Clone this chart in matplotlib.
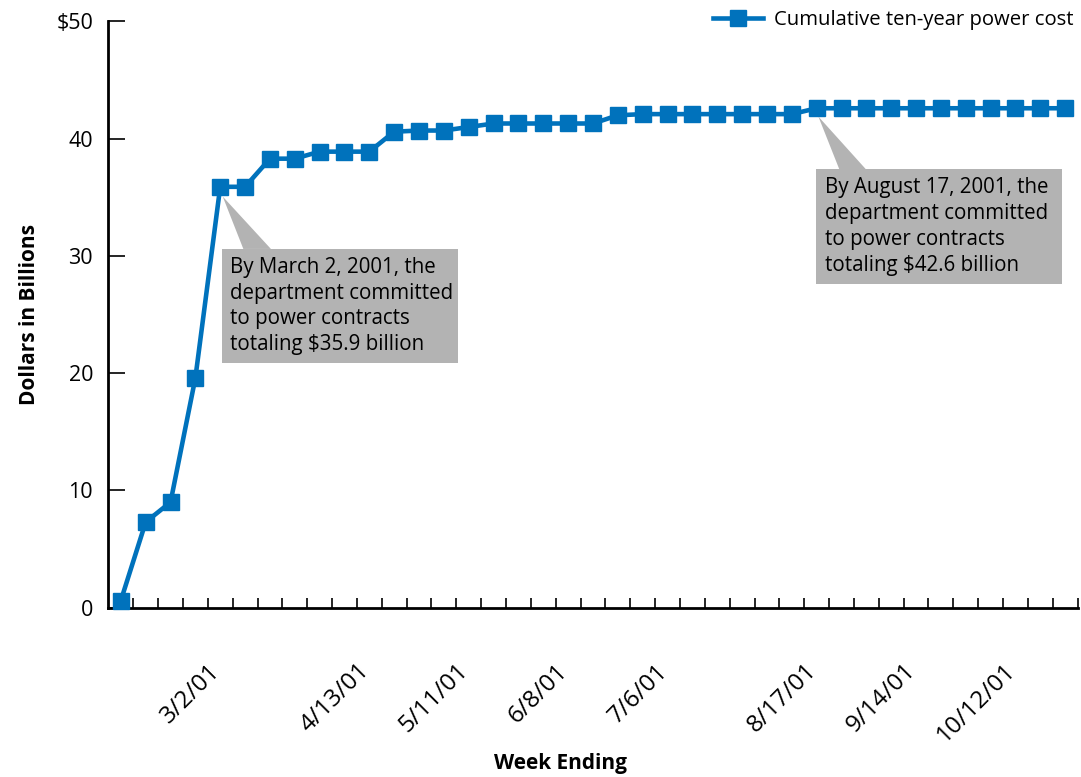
import matplotlib
matplotlib.use('Agg')
import matplotlib.pyplot as plt
from matplotlib.patches import Polygon, Rectangle
from matplotlib.transforms import ScaledTranslation

# weekly cumulative cost, week ending 2/2/01 through 10/26/01
weeks = ['2/2/01', '2/9/01', '2/16/01', '2/23/01', '3/2/01', '3/9/01', '3/16/01',
         '3/23/01', '3/30/01', '4/6/01', '4/13/01', '4/20/01', '4/27/01', '5/4/01',
         '5/11/01', '5/18/01', '5/25/01', '6/1/01', '6/8/01', '6/15/01', '6/22/01',
         '6/29/01', '7/6/01', '7/13/01', '7/20/01', '7/27/01', '8/3/01', '8/10/01',
         '8/17/01', '8/24/01', '8/31/01', '9/7/01', '9/14/01', '9/21/01', '9/28/01',
         '10/5/01', '10/12/01', '10/19/01', '10/26/01']
cost = [0.6, 7.3, 9.0, 19.6, 35.9, 35.9, 38.3, 38.3, 38.9, 38.9, 38.9, 40.6, 40.7,
        40.7, 41.0, 41.3, 41.3, 41.3, 41.3, 41.3, 42.0, 42.1, 42.1, 42.1, 42.1, 42.1,
        42.1, 42.1, 42.6, 42.6, 42.6, 42.6, 42.6, 42.6, 42.6, 42.6, 42.6, 42.6, 42.6]
shown_labels = ['3/2/01', '4/13/01', '5/11/01', '6/8/01', '7/6/01', '8/17/01',
                '9/14/01', '10/12/01']
y_ticks = [0, 10, 20, 30, 40, 50]
y_tick_labels = ['0', '10', '20', '30', '40', '$50']

note1 = 'By March 2, 2001, the\ndepartment committed\nto power contracts\ntotaling $35.9 billion'
note2 = 'By August 17, 2001, the\ndepartment committed\nto power contracts\ntotaling $42.6 billion'

plt.rcParams['font.family'] = ['Open Sans', 'DejaVu Sans']
blue = '#0072bc'
grey = '#b3b3b3'

fig = plt.figure(figsize=(10.81, 7.77), dpi=100)
ax = fig.add_axes([108.4 / 1081, 1 - 607.7 / 777, (1077.6 - 108.4) / 1081, (607.7 - 21.5) / 777])

x = list(range(len(weeks)))
ax.plot(x, cost, color=blue, lw=3.3, marker='s', ms=12, zorder=5, clip_on=False,
        label='Cumulative ten-year power cost')

ax.set_xlim(-0.5, len(weeks) - 0.5)
ax.set_ylim(0, 50)

# callouts
ax.add_patch(Rectangle((4.06, 20.88), 13.57 - 4.06, 30.6 - 20.88, fc=grey, ec='none', zorder=2))
ax.add_patch(Polygon([(4.10, 35.07), (4.93, 30.6), (6.04, 30.6)], closed=True, fc=grey, ec='none', zorder=2))
ax.text(4.40, 25.74, note1, fontsize=14.8, va='center', ha='left', linespacing=1.3, zorder=3)

ax.add_patch(Rectangle((27.98, 27.62), 37.86 - 27.98, 37.4 - 27.62, fc=grey, ec='none', zorder=2))
ax.add_patch(Polygon([(28.07, 41.89), (28.91, 37.4), (29.98, 37.4)], closed=True, fc=grey, ec='none', zorder=2))
ax.text(28.32, 32.5, note2, fontsize=14.8, va='center', ha='left', linespacing=1.3, zorder=3)

# axes styling
for s in ['top', 'right']:
    ax.spines[s].set_visible(False)
for s in ['left', 'bottom']:
    ax.spines[s].set_linewidth(2)

ax.set_yticks(y_ticks)
ax.set_yticklabels(y_tick_labels, fontsize=15.5)
ax.tick_params(axis='y', direction='in', length=12, width=1.2, pad=11)

label_pos = [weeks.index(w) for w in shown_labels]
ax.set_xticks(label_pos)
ax.set_xticklabels(shown_labels, rotation=45, ha='right', rotation_mode='anchor', fontsize=17.5)
ax.tick_params(axis='x', which='major', length=0, pad=37)
shift = ScaledTranslation(-0.12, 0, fig.dpi_scale_trans)
for lab in ax.get_xticklabels():
    lab.set_transform(lab.get_transform() + shift)
ax.set_xticks([i + 0.5 for i in x], minor=True)
ax.tick_params(axis='x', which='minor', direction='in', length=7, width=1.2)

ax.set_ylabel('Dollars in Billions', fontsize=15, fontweight='bold', labelpad=12)
fig.text(561 / 1081, 1 - 763 / 777, 'Week Ending', fontsize=15, fontweight='bold',
         ha='center', va='center')

fig.legend(loc='center right', bbox_to_anchor=(1074 / 1081, 1 - 20 / 777), frameon=False,
           fontsize=14.6, handlelength=2.5, handletextpad=0.55, borderaxespad=0, borderpad=0)

fig.savefig('out.png', dpi=100)
